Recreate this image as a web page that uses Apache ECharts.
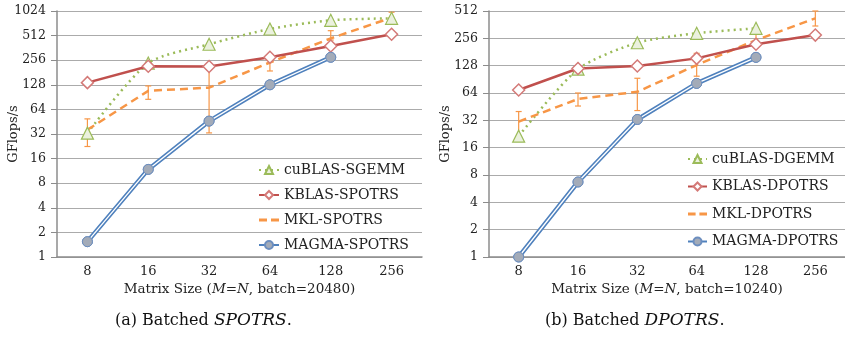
<!DOCTYPE html>
<html>
<head>
<meta charset="utf-8">
<script src="https://cdn.jsdelivr.net/npm/echarts@6/dist/echarts.min.js"></script>
<style>
  html, body { margin: 0; padding: 0; background: #fff; }
  #main { width: 845px; height: 337px; }
</style>
</head>
<body>
<div id="main"></div>
<script>
// 图表实例
const chart = echarts.init(document.getElementById("main"));

// 矩阵尺寸（两幅子图共用）
const sizes = ["8", "16", "32", "64", "128", "256"];

// (a) 单精度 SPOTRS
const sgemm = [32.8, 236, 401, 617, 788, 833];
const kblasS = [136, 216, 214, 278, 382, 531];
const mklS = [36, 108, 118, 240, 474, 849];
const mklSLow = [22.5, 85, 33, 189, 452, 704];
const mklSHigh = [49, 124, 200, 295, 588, 989];
const magmaS = [1.54, 11.8, 46, 128, 278, null];

// (b) 双精度 DPOTRS
const dgemm = [21.4, 117, 229, 291, 330, null];
const kblasD = [69, 119, 127, 154, 220, 278];
const mklD = [31, 55, 66, 130, 245, 425];
const mklDLow = [20, 46, 41, 98, 226, 350];
const mklDHigh = [40, 64, 93, 175, 291, 512];
const magmaD = [1.0, 6.7, 32.7, 81.6, 158, null];

const FONT = "DejaVu Serif";
const GREEN = "#9BBB59", RED = "#C0504D", ORANGE = "#F79646", BLUE = "#4F81BD";

function xAxisFor(gridIndex, batch) {
  return {
    type: "category",
    gridIndex,
    data: sizes,
    axisLine: { lineStyle: { color: "#8c8c8c", width: 1.5 } },
    axisTick: { length: 5, lineStyle: { color: "#8c8c8c" } },
    axisLabel: { color: "#222", fontFamily: FONT, fontSize: 13, margin: 8 },
    name: `{n|Matrix Size (}{i|M}{n|=}{i|N}{n|, batch=${batch})}`,
    nameLocation: "middle",
    nameGap: 24,
    nameTextStyle: {
      rich: {
        n: { fontFamily: FONT, fontSize: 13.5, color: "#222" },
        i: { fontFamily: FONT, fontSize: 13.5, fontStyle: "italic", color: "#222" },
      },
    },
  };
}

function yAxisFor(gridIndex, max) {
  return {
    type: "log",
    logBase: 2,
    gridIndex,
    min: 1,
    max,
    interval: 1,
    name: "GFlops/s",
    nameLocation: "middle",
    nameGap: 37,
    nameMoveOverlap: false,
    nameTextStyle: { fontFamily: FONT, fontSize: 13, color: "#222" },
    axisLine: { show: true, lineStyle: { color: "#8c8c8c", width: 1.5 } },
    axisTick: { show: true, length: 6, lineStyle: { color: "#8c8c8c" } },
    axisLabel: {
      color: "#222", fontFamily: FONT, fontSize: 12.5, margin: 11,
      formatter: (v) => Math.round(v),
    },
    splitLine: { lineStyle: { color: "#ababab", width: 1.2 } },
  };
}

// 误差棒（自定义系列）
function errorBars(idx, low, high) {
  return {
    type: "custom",
    xAxisIndex: idx,
    yAxisIndex: idx,
    z: 3,
    data: sizes.map((s, i) => [i, low[i], high[i]]),
    renderItem: (params, api) => {
      const lo = api.coord([api.value(0), api.value(1)]);
      const hi = api.coord([api.value(0), api.value(2)]);
      const w = 3;
      const st = { stroke: ORANGE, lineWidth: 1.2 };
      return {
        type: "group",
        children: [
          { type: "line", shape: { x1: lo[0], y1: lo[1], x2: hi[0], y2: hi[1] }, style: st },
          { type: "line", shape: { x1: lo[0] - w, y1: lo[1], x2: lo[0] + w, y2: lo[1] }, style: st },
          { type: "line", shape: { x1: hi[0] - w, y1: hi[1], x2: hi[0] + w, y2: hi[1] }, style: st },
        ],
      };
    },
  };
}

function seriesFor(idx, names, gemm, kblas, mkl, low, high, magma) {
  const base = { type: "line", xAxisIndex: idx, yAxisIndex: idx, connectNulls: false };
  return [
    {
      ...base, name: names[0], data: gemm, z: 4, smooth: 0.25,
      symbol: "triangle", symbolSize: 12,
      lineStyle: { color: GREEN, width: 2.5, type: [2, 4] },
      itemStyle: { color: "#EBF1DE", borderColor: GREEN, borderWidth: 1.2 },
    },
    {
      ...base, name: names[1], data: kblas, z: 5,
      symbol: "diamond", symbolSize: 12,
      lineStyle: { color: RED, width: 2.5 },
      itemStyle: { color: "#fff", borderColor: "#D47A78", borderWidth: 1.5 },
    },
    {
      ...base, name: names[2], data: mkl, z: 4, symbol: "none",
      lineStyle: { color: ORANGE, width: 2.5, type: [8, 5] },
      itemStyle: { color: ORANGE },
    },
    errorBars(idx, low, high),
    {
      ...base, name: names[3], data: magma, z: 2,
      symbol: "circle", symbolSize: 10,
      lineStyle: { color: BLUE, width: 4.5 },
      itemStyle: { color: "#A3ABB8", borderColor: "#6C8EBF", borderWidth: 1 },
    },
    {
      // 双线内部白线
      ...base, name: "inner" + idx, data: magma, z: 2.5, symbol: "none",
      lineStyle: { color: "#fff", width: 1.3 }, silent: true,
    },
    {
      ...base, name: "marks" + idx, data: magma, z: 6,
      symbol: "circle", symbolSize: 10,
      lineStyle: { opacity: 0 },
      itemStyle: { color: "#A3ABB8", borderColor: "#6C8EBF", borderWidth: 1 },
    },
  ];
}

const namesS = ["cuBLAS-SGEMM", "KBLAS-SPOTRS", "MKL-SPOTRS", "MAGMA-SPOTRS"];
const namesD = ["cuBLAS-DGEMM", "KBLAS-DPOTRS", "MKL-DPOTRS", "MAGMA-DPOTRS"];

// 虚线图例图标
const dashIcon = "path://M0,0h8v3h-8z M12,0h8v3h-8z";
const legendItems = (names) =>
  names.map((n, i) => (i === 2 ? { name: n, icon: dashIcon, itemStyle: { color: ORANGE } } : n));

const legendStyle = { fontFamily: FONT, fontSize: 14, color: "#222" };

const captionRich = {
  n: { fontFamily: FONT, fontSize: 16, fill: "#111" },
  i: { fontFamily: FONT, fontSize: 17, fontStyle: "italic", fill: "#111" },
};

const option = {
  animation: false,
  backgroundColor: "#fff",
  grid: [
    { left: 57, top: 11, width: 365, height: 246 },
    { left: 489, top: 11, width: 363, height: 246 },
  ],
  xAxis: [xAxisFor(0, 20480), xAxisFor(1, 10240)],
  yAxis: [yAxisFor(0, 1024), yAxisFor(1, 512)],
  legend: [
    {
      data: legendItems(namesS), orient: "vertical", left: 258, top: 163, padding: 0,
      itemWidth: 20, itemHeight: 10, itemGap: 11, textStyle: legendStyle,
    },
    {
      data: legendItems(namesD), orient: "vertical", left: 687, top: 152, padding: 0,
      itemWidth: 19, itemHeight: 10, itemGap: 13.5, textStyle: legendStyle,
    },
  ],
  graphic: [
    {
      type: "text", left: 115, top: 312,
      style: { text: "{n|(a) Batched }{i|SPOTRS}{n|.}", rich: captionRich },
    },
    {
      type: "text", left: 545, top: 312,
      style: { text: "{n|(b) Batched }{i|DPOTRS}{n|.}", rich: captionRich },
    },
  ],
  series: [
    ...seriesFor(0, namesS, sgemm, kblasS, mklS, mklSLow, mklSHigh, magmaS),
    ...seriesFor(1, namesD, dgemm, kblasD, mklD, mklDLow, mklDHigh, magmaD),
  ],
};

chart.setOption(option);
</script>
</body>
</html>
